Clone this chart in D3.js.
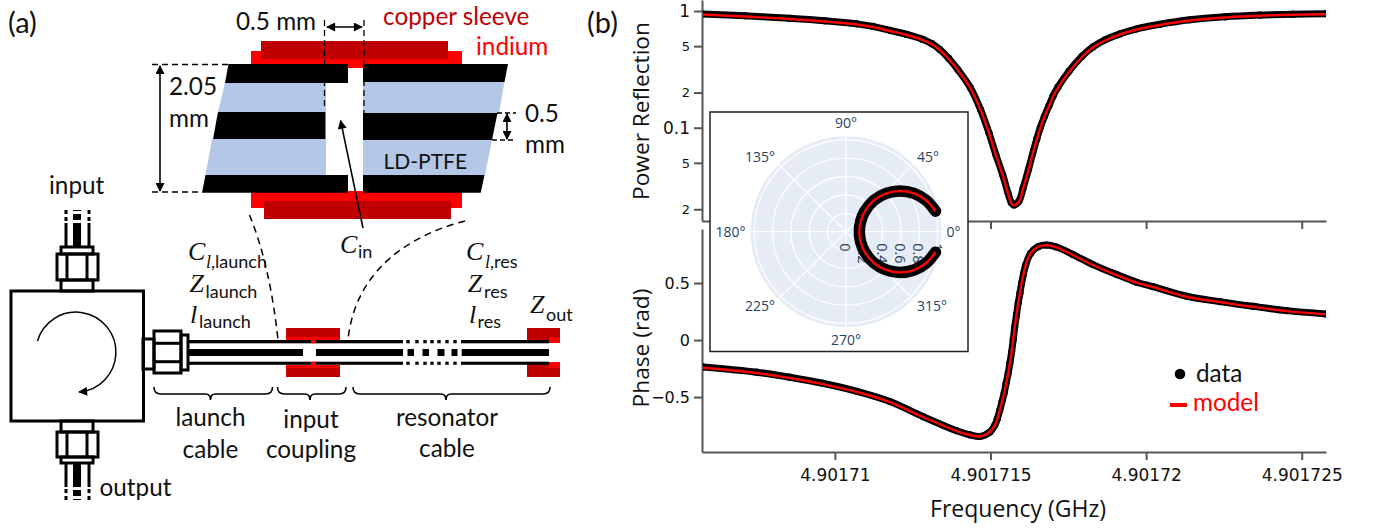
<!DOCTYPE html>
<html>
<head>
<meta charset="utf-8">
<title>Resonator reflection</title>
<script src="https://cdn.jsdelivr.net/npm/d3@7"></script>
<style>
html, body { margin: 0; padding: 0; background: #fff; }
svg { display: block; }
text { font-family: Lato, "Open Sans", sans-serif; fill: #111; }
.plotly text { font-family: "Open Sans", sans-serif; }
.math { font-family: "Liberation Serif", serif; font-style: italic; }
</style>
</head>
<body>
<svg id="fig" width="1373" height="529"></svg>
<script>
// frequencies are kHz above 4.9017 GHz
var powerFreq = [5.73, 7.11, 8.55, 9.68, 10.71, 11.22, 11.77, 12.31, 12.83, 13.12, 13.37, 13.66, 13.95, 14.35, 14.68, 14.95, 15.17, 15.39, 15.56, 15.67, 15.75, 15.91, 16.05, 16.22, 16.38, 16.49, 16.60, 16.73, 16.88, 17.01, 17.17, 17.52, 17.94, 18.29, 18.68, 19.16, 19.70, 20.44, 21.41, 22.53, 23.66, 24.72, 25.78];
var powerModel = [0.933, 0.897, 0.854, 0.813, 0.766, 0.729, 0.674, 0.6227, 0.564, 0.5184, 0.463, 0.388, 0.312, 0.219, 0.142, 0.0901, 0.0583, 0.0393, 0.0275, 0.0226, 0.0216, 0.0232, 0.0303, 0.0434, 0.0632, 0.0800, 0.0994, 0.1235, 0.1534, 0.185, 0.221, 0.300, 0.4036, 0.4866, 0.5588, 0.629, 0.694, 0.759, 0.829, 0.880, 0.911, 0.928, 0.937];
var powerData = [0.945, 0.909, 0.865, 0.824, 0.776, 0.738, 0.683, 0.630, 0.571, 0.525, 0.469, 0.392, 0.315, 0.221, 0.143, 0.0905, 0.0588, 0.0396, 0.0277, 0.0228, 0.0218, 0.0234, 0.0305, 0.0438, 0.0637, 0.0806, 0.1002, 0.1243, 0.1544, 0.1865, 0.2235, 0.304, 0.409, 0.4925, 0.5655, 0.637, 0.703, 0.769, 0.840, 0.891, 0.922, 0.940, 0.949];

var phaseFreq = [5.75, 7.49, 8.55, 9.61, 10.71, 11.77, 12.83, 13.92, 14.34, 14.66, 14.98, 15.14, 15.22, 15.30, 15.37, 15.44, 15.50, 15.57, 15.625, 15.68, 15.73, 15.78, 15.835, 15.89, 15.945, 16.00, 16.06, 16.13, 16.29, 16.53, 16.80, 17.12, 17.65, 18.29, 19.06, 19.70, 20.22, 21.31, 22.37, 23.43, 24.52, 25.78];
var phaseModel = [-0.243, -0.289, -0.333, -0.386, -0.456, -0.544, -0.675, -0.798, -0.833, -0.846, -0.807, -0.746, -0.69, -0.614, -0.54, -0.465, -0.38, -0.289, -0.20, -0.103, 0.005, 0.117, 0.22, 0.325, 0.41, 0.5, 0.58, 0.658, 0.761, 0.818, 0.831, 0.813, 0.746, 0.658, 0.570, 0.503, 0.465, 0.38, 0.333, 0.292, 0.254, 0.225];
var phaseData = [-0.236, -0.282, -0.326, -0.379, -0.450, -0.539, -0.671, -0.796, -0.832, -0.846, -0.807, -0.746, -0.69, -0.614, -0.54, -0.465, -0.38, -0.289, -0.20, -0.103, 0.005, 0.117, 0.22, 0.325, 0.41, 0.5, 0.58, 0.658, 0.761, 0.819, 0.833, 0.816, 0.750, 0.662, 0.574, 0.507, 0.469, 0.384, 0.337, 0.296, 0.258, 0.229];

// inset, angle in degrees and |S11|
var polarAngle = [12.9, 21.3, 29.4, 37, 43.6, 48.3, 47.3, 35.5, 0, -35.5, -47.3, -48.3, -43.6, -37, -29.4, -21.3, -12.9];
var polarRadius = [1.0, 0.938, 0.85, 0.737, 0.604, 0.456, 0.302, 0.197, 0.145, 0.197, 0.302, 0.456, 0.604, 0.737, 0.85, 0.938, 1.0];

var freqTicks = [10, 15, 20, 25];
var freqTickLabels = ["4.90171", "4.901715", "4.90172", "4.901725"];
var powerTicks = [1, 0.5, 0.2, 0.1, 0.05, 0.02];
var powerTickLabels = ["1", "5", "2", "0.1", "5", "2"];
var phaseTicks = [0.5, 0, -0.5];
var phaseTickLabels = ["0.5", "0", "\u22120.5"];
var angleTicks = [0, 45, 90, 135, 180, 225, 270, 315];
var radiusTicks = [0, 0.2, 0.4, 0.6, 0.8, 1];

var RED = "#ff0000", COPPER = "#c00000", BLUE = "#b4c7e7", AXIS = "#555";
var TICKFONT = "'DejaVu Sans', sans-serif";

var svg = d3.select("#fig");

var defs = svg.append("defs");
defs.append("marker").attr("id", "head").attr("viewBox", "0 0 10 10").attr("refX", 9).attr("refY", 5)
    .attr("markerWidth", 10).attr("markerHeight", 9).attr("markerUnits", "userSpaceOnUse").attr("orient", "auto-start-reverse")
    .append("path").attr("d", "M0,0 L10,5 L0,10 Z").attr("fill", "#000");
defs.append("clipPath").attr("id", "plotclip").append("rect")
    .attr("x", 703).attr("y", 0).attr("width", 623).attr("height", 460);

/* ---------- panel (b) ---------- */
var x = d3.scaleLinear().domain([5.73, 25.78]).range([702, 1326]);
var yPower = d3.scaleLog().domain([0.01587, 1.2425]).range([221, 0]);
var yPhase = d3.scaleLinear().domain([-0.982, 0.974]).range([452, 229]);

function styleAxis(g) {
    g.selectAll(".domain").attr("stroke", AXIS).attr("stroke-width", 2);
    g.selectAll(".tick line").attr("stroke", AXIS).attr("stroke-width", 2);
    g.selectAll(".tick text").attr("fill", "#444").style("font-family", TICKFONT);
}

var gb = svg.append("g").attr("class", "plotly");

// top panel x axis has ticks only
gb.append("g").attr("transform", "translate(0,221)")
    .call(d3.axisBottom(x).tickValues(freqTicks).tickSize(8).tickSizeOuter(0).tickFormat(""))
    .call(styleAxis);
gb.append("g").attr("transform", "translate(0,452)")
    .call(d3.axisBottom(x).tickValues(freqTicks).tickSize(8).tickSizeOuter(0).tickPadding(9)
        .tickFormat(function (d, i) { return freqTickLabels[i]; }))
    .call(styleAxis)
    .selectAll(".tick text").style("font-size", "17px");

gb.append("g").attr("transform", "translate(702,0)")
    .call(d3.axisLeft(yPower).tickValues(powerTicks).tickSize(8).tickSizeOuter(0).tickPadding(4)
        .tickFormat(function (d, i) { return powerTickLabels[i]; }))
    .call(styleAxis)
    .selectAll(".tick text").style("font-size", function (d) { return (d == 0.1 || d == 1) ? "17px" : "13px"; });
gb.append("g").attr("transform", "translate(702,0)")
    .call(d3.axisLeft(yPhase).tickValues(phaseTicks).tickSize(8).tickSizeOuter(0).tickPadding(4)
        .tickFormat(function (d, i) { return phaseTickLabels[i]; }))
    .call(styleAxis)
    .selectAll(".tick text").style("font-size", "16px");

function drawCurve(freq, data, model, y) {
    var g = gb.append("g").attr("clip-path", "url(#plotclip)");
    var pts = d3.zip(freq, data);
    var ptsModel = d3.zip(freq, model);
    var line = d3.line().x(function (d) { return x(d[0]); }).y(function (d) { return y(d[1]); }).curve(d3.curveCatmullRom.alpha(0.5));
    g.append("path").attr("d", line(pts)).attr("fill", "none").attr("stroke", "#000").attr("stroke-width", 7);
    g.selectAll("circle").data(pts).enter().append("circle")
        .attr("cx", function (d) { return x(d[0]); })
        .attr("cy", function (d) { return y(d[1]); })
        .attr("r", 3.6).attr("fill", "#000");
    g.append("path").attr("d", line(ptsModel)).attr("fill", "none").attr("stroke", RED).attr("stroke-width", 2.4);
}
drawCurve(powerFreq, powerData, powerModel, yPower);
drawCurve(phaseFreq, phaseData, phaseModel, yPhase);

gb.append("text").attr("transform", "translate(649,111) rotate(-90)").attr("text-anchor", "middle").style("font-size", "22.7px").text("Power Reflection");
gb.append("text").attr("transform", "translate(649,348) rotate(-90)").attr("text-anchor", "middle").style("font-size", "22.7px").text("Phase (rad)");
gb.append("text").attr("x", 1018).attr("y", 517).attr("text-anchor", "middle").style("font-size", "23px").text("Frequency (GHz)");

// legend
gb.append("circle").attr("cx", 1180).attr("cy", 374).attr("r", 5.3).attr("fill", "#000");
gb.append("line").attr("x1", 1170).attr("x2", 1187).attr("y1", 405).attr("y2", 405).attr("stroke", RED).attr("stroke-width", 4);
label(1196, 381.5, "data", 24.3, "#111");
label(1193, 411, "model", 24.3, RED);

/* ---------- polar inset ---------- */
var cx = 846, cy = 231.7;
var r = d3.scaleLinear().domain([0, 1.04]).range([0, 95.5]);
var inset = svg.append("g").attr("class", "plotly");
inset.append("rect").attr("x", 710).attr("y", 112).attr("width", 258).attr("height", 239.5)
    .attr("fill", "#fff").attr("stroke", "#222").attr("stroke-width", 1.5);
var polar = inset.append("g").attr("transform", "translate(" + cx + "," + cy + ")");
polar.append("circle").attr("r", r(1.04)).attr("fill", "#e5ecf6");
polar.selectAll(".ring").data(radiusTicks.slice(1)).enter().append("circle")
    .attr("r", function (d) { return r(d); }).attr("fill", "none").attr("stroke", "#fff").attr("stroke-width", 1.2);
function px(a, v) { return r(v) * Math.cos(a * Math.PI / 180); }
function py(a, v) { return -r(v) * Math.sin(a * Math.PI / 180); }
polar.selectAll(".spoke").data(angleTicks).enter().append("line")
    .attr("x1", 0).attr("y1", 0)
    .attr("x2", function (d) { return px(d, 1.04); })
    .attr("y2", function (d) { return py(d, 1.04); })
    .attr("stroke", "#fff").attr("stroke-width", 1.2);
// labels hang off the rim like plotly does: start/end anchored left and right of it
polar.selectAll(".angle").data(angleTicks).enter().append("text")
    .attr("x", function (d) { return px(d, 1.095); })
    .attr("y", function (d) {
        var s = Math.sin(d * Math.PI / 180);
        var lift = Math.abs(s) > 0.9 ? 8 : (Math.abs(s) > 0.5 ? 3.5 : 0);
        return py(d, 1.095) - (s > 0 ? lift : -lift) + 5;
    })
    .attr("text-anchor", function (d) {
        var c = Math.cos(d * Math.PI / 180);
        return Math.abs(c) < 0.01 ? "middle" : (c > 0 ? "start" : "end");
    })
    .style("font-size", "14px").style("fill", "#2a3f5f")
    .text(function (d) { return d + "\u00b0"; });
polar.selectAll(".rad").data(radiusTicks).enter().append("text")
    .attr("transform", function (d) { return "translate(" + (r(d) - 6) + ",11.5) rotate(90)"; })
    .style("font-size", "14.5px").style("fill", "#2a3f5f")
    .text(function (d) { return d; });
var ring = d3.zip(polarAngle, polarRadius);
var ringLine = d3.line()
    .x(function (d) { return px(d[0], d[1]); })
    .y(function (d) { return py(d[0], d[1]); })
    .curve(d3.curveCatmullRom.alpha(0.5));
polar.append("path").attr("d", ringLine(ring)).attr("fill", "none").attr("stroke", "#000").attr("stroke-width", 11.5).attr("stroke-linecap", "round");
polar.append("path").attr("d", ringLine(ring)).attr("fill", "none").attr("stroke", RED).attr("stroke-width", 2.4);

/* ---------- panel (a) schematic ---------- */
var ga = svg.append("g");

function label(xp, yp, t, size, color, anchor) {
    return svg.append("text").attr("x", xp).attr("y", yp).attr("text-anchor", anchor || "start")
        .style("font-size", size + "px").style("fill", color || "#111").text(t);
}
function box(x0, y0, x1, y1, fill) {
    ga.append("rect").attr("x", x0).attr("y", y0).attr("width", x1 - x0).attr("height", y1 - y0).attr("fill", fill);
}
function frame(x0, y0, x1, y1, w) {
    ga.append("rect").attr("x", x0).attr("y", y0).attr("width", x1 - x0).attr("height", y1 - y0)
        .attr("fill", "none").attr("stroke", "#000").attr("stroke-width", w || 3);
}
function poly(pts, fill) {
    ga.append("polygon").attr("points", pts.map(function (p) { return p.join(","); }).join(" ")).attr("fill", fill);
}
function seg(x0, y0, x1, y1, w, dash, arrows) {
    var l = ga.append("line").attr("x1", x0).attr("y1", y0).attr("x2", x1).attr("y2", y1)
        .attr("stroke", "#000").attr("stroke-width", w || 1.5);
    if (dash) l.attr("stroke-dasharray", dash);
    if (arrows) {
        l.attr("marker-end", "url(#head)");
        if (arrows == 2) l.attr("marker-start", "url(#head)");
    }
}
function curve(d, w, dash) {
    var p = ga.append("path").attr("d", d).attr("fill", "none").attr("stroke", "#000").attr("stroke-width", w || 1.5);
    if (dash) p.attr("stroke-dasharray", dash);
    return p;
}

// cross section
box(251, 51, 462, 68, RED);
box(261, 41, 448, 59, COPPER);
box(251, 191, 462, 208, RED);
box(264, 201, 451, 219, COPPER);
poly([[225, 83], [326, 83], [326, 112], [218, 112]], BLUE);
poly([[363, 82], [504.5, 82], [499, 113], [363, 113]], BLUE);
poly([[212, 139], [326, 139], [326, 175], [205.5, 175]], BLUE);
poly([[363, 140], [492, 140], [485, 175], [363, 175]], BLUE);
poly([[228.5, 64], [348, 64], [348, 83], [225, 83]], "#000");
poly([[363, 64], [508, 64], [504.5, 82], [363, 82]], "#000");
poly([[218, 112], [325.5, 112], [325.5, 139], [213, 139]], "#000");
poly([[363, 113], [497.5, 113], [492, 140], [363, 140]], "#000");
poly([[205.5, 175], [348, 175], [348, 192.7], [202, 192.7]], "#000");
poly([[363, 175], [484.5, 175], [480.7, 192.7], [363, 192.7]], "#000");

seg(324.5, 20, 324.5, 108, 1.3, "6,4");
seg(364, 20, 364, 126, 1.3, "6,4");
seg(327, 27, 362, 27, 1.6, null, 2);
seg(152, 64.5, 228, 64.5, 1.3, "6,4");
seg(152, 192, 202, 192, 1.3, "6,4");
seg(160, 66, 160, 191, 1.6, null, 2);
seg(497, 113, 516, 113, 1.3, "5,3");
seg(492, 140, 513, 140, 1.3, "5,3");
seg(507, 114, 507, 139, 1.6, null, 2);
seg(363, 228, 340.6, 120.7, 1.6, null, 1);

curve("M249.5,215 Q270,265 278,340", 1.5, "7,5");
curve("M465,221 C410,235 355,270 348,340", 1.5, "7,5");

// circulator
frame(11, 291, 143.5, 421);
curve("M37.5,341 A40,40 0 1 1 79,392", 1.5).attr("marker-end", "url(#head)");

function connectorV(y0, y1, y2, y3, flip) {
    // nut + collar + wires running up (flip=-1) or down (flip=1)
    frame(61, Math.min(y0, y1), 93, Math.max(y0, y1));
    frame(57, Math.min(y1, y2), 98, Math.max(y1, y2));
    seg(67, y1, 67, y2, 3);
    seg(87, y1, 87, y2, 3);
    frame(61, Math.min(y2, y3), 93, Math.max(y2, y3));
    var wireEnd = y3 + flip * 24;
    var dashEnd = y3 + flip * 37;
    seg(66, y3, 66, wireEnd, 3);
    seg(89, y3, 89, wireEnd, 3);
    seg(77, y3, 77, wireEnd, 8);
    seg(66, wireEnd + flip * 2, 66, dashEnd, 3, "4,3");
    seg(89, wireEnd + flip * 2, 89, dashEnd, 3, "4,3");
    seg(77, wireEnd + flip * 3, 77, dashEnd, 8, "6,3");
}
connectorV(291, 280, 254, 247, -1);
connectorV(421, 432, 457, 463, 1);

// launch connector
frame(143, 339, 154, 369);
frame(154, 331, 181, 373);
seg(154, 343.3, 181, 343.3, 3);
seg(154, 361.7, 181, 361.7, 3);
frame(181, 335, 188, 370);

// cable
box(286, 328, 340, 340, COPPER);
box(286, 337, 340, 340, RED);
box(286, 365, 340, 377, COPPER);
box(286, 365, 340, 368, RED);
box(311, 340, 316, 343.5, RED);
box(311, 361.5, 316, 365, RED);
box(527, 328, 560, 343, COPPER);
box(549, 337, 560, 343, RED);
box(527, 362, 560, 377, COPPER);
box(549, 362, 560, 368, RED);

[[188, 311], [316, 403], [461, 549]].forEach(function (s) {
    box(s[0], 340, s[1], 343.3, "#000");
    box(s[0], 361.7, s[1], 364.8, "#000");
});
[[188, 303], [316, 403], [461.7, 549]].forEach(function (s) {
    box(s[0], 349, s[1], 356, "#000");
});
[408, 417, 425, 432, 439, 447, 455].forEach(function (xx) {
    box(xx - 1.7, 340, xx + 1.7, 343.3, "#000");
    box(xx - 1.7, 361.7, xx + 1.7, 364.8, "#000");
});
[[407.5, 414], [422.5, 429], [437.5, 444.5], [451.5, 457.5]].forEach(function (s) {
    box(s[0], 349, s[1], 356, "#000");
});

// braces
function brace(x0, xm, x1) {
    curve("M" + x0 + ",387 Q" + x0 + ",394 " + (x0 + 7) + ",394 L" + (xm - 5) + ",394 Q" + xm + ",394 " + xm + ",400 Q" + xm + ",394 " + (xm + 5) + ",394 L" + (x1 - 7) + ",394 Q" + x1 + ",394 " + x1 + ",387", 1.6);
}
brace(154, 210.5, 272.5);
brace(277.5, 310, 346);
brace(353, 446, 550);

// math labels: italic symbol with an upright subscript
function sym(xp, yp, s, sub, subx, suby, symSub) {
    svg.append("text").attr("class", "math").attr("x", xp).attr("y", yp).style("font-size", "26px").text(s);
    var t = svg.append("text").attr("x", subx).attr("y", suby).style("font-size", "18px");
    if (symSub) t.append("tspan").attr("class", "math").style("font-size", "18px").text(symSub);
    t.append("tspan").text(sub);
}

label(8, 33, "(a)", 29);
label(587, 33, "(b)", 29);
label(236, 30, "0.5 mm", 24.3);
label(383, 25, "copper sleeve", 24.3, COPPER);
label(476, 55, "indium", 24.3, RED);
label(169, 95, "2.05", 24.3);
label(169, 126.7, "mm", 24.3);
label(525, 121.7, "0.5", 24.3);
label(525, 152.7, "mm", 24.3);
label(383.5, 169.3, "LD-PTFE", 21);
label(49, 194, "input", 24.3);
label(99.5, 495.7, "output", 24.3);
label(210.5, 426, "launch", 24.3, null, "middle");
label(210.5, 458, "cable", 24.3, null, "middle");
label(311, 427.7, "input", 24.3, null, "middle");
label(311, 458, "coupling", 24.3, null, "middle");
label(447, 426, "resonator", 24.3, null, "middle");
label(447, 456.7, "cable", 24.3, null, "middle");

sym(340, 253, "C", "in", 358, 258);
sym(188, 260, "C", ",launch", 206, 268, "l");
sym(466, 260, "C", ",res", 485, 268, "l");
sym(189.5, 291.7, "Z", "launch", 205.5, 298);
sym(467.7, 291.7, "Z", "res", 484, 298);
sym(190, 322.7, "l", "launch", 199, 328);
sym(469, 322.7, "l", "res", 477.6, 328);
sym(530, 313, "Z", "out", 546, 320.7);
</script>
</body>
</html>
